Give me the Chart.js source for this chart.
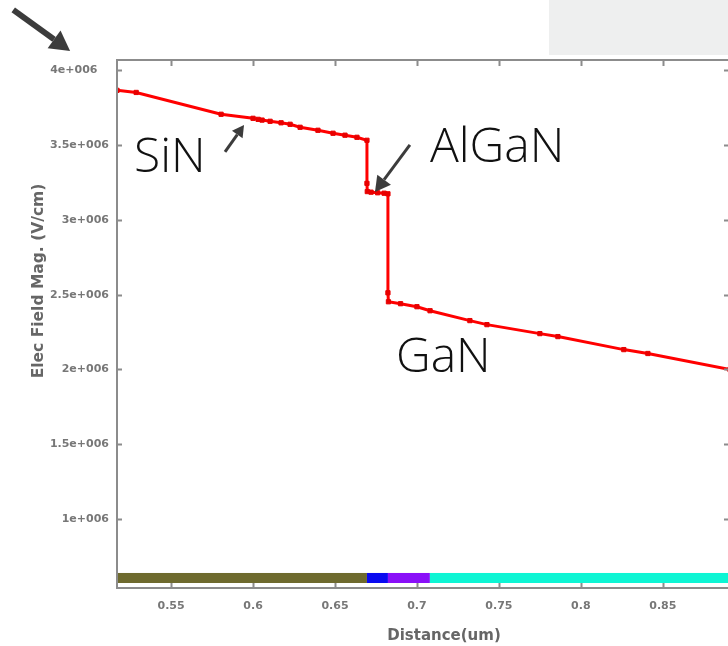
<!DOCTYPE html>
<html>
<head>
<meta charset="utf-8">
<script src="https://cdn.jsdelivr.net/npm/chart.js@4.4.1/dist/chart.umd.min.js"></script>
<style>
  html, body { margin: 0; padding: 0; background: #fff; overflow: hidden; }
  #wrap { position: absolute; left: 0; top: 0; width: 740px; height: 646px; }
  #corner { position: absolute; left: 549px; top: 0; width: 179px; height: 55px; background: #eeefef; }
</style>
</head>
<body>
<div id="wrap"><canvas id="fieldChart" width="740" height="646"></canvas></div>
<div id="corner"></div>
<script>
(function () {
  'use strict';

  // field magnitude profile across the stack (distance in um, field in V/cm)
  var distance = [0.517, 0.5287, 0.5805, 0.6000, 0.6031, 0.6055, 0.6104, 0.6171, 0.6226, 0.6287,
    0.6396, 0.6488, 0.6561, 0.6634, 0.6695, 0.6695, 0.6697, 0.6720, 0.6760, 0.6800,
    0.6823, 0.6823, 0.6826, 0.6900, 0.7000, 0.7080, 0.7323, 0.7427, 0.7750, 0.7860,
    0.8262, 0.8409, 0.8910];
  var fieldMag = [3.867e6, 3.853e6, 3.707e6, 3.680e6, 3.673e6, 3.668e6, 3.660e6, 3.650e6, 3.640e6, 3.620e6,
    3.600e6, 3.580e6, 3.567e6, 3.553e6, 3.533e6, 3.245e6, 3.190e6, 3.186e6, 3.182e6, 3.179e6,
    3.175e6, 2.513e6, 2.453e6, 2.440e6, 2.420e6, 2.393e6, 2.327e6, 2.300e6, 2.240e6, 2.220e6,
    2.133e6, 2.107e6, 2.000e6];

  var xTicks = [0.55, 0.6, 0.65, 0.7, 0.75, 0.8, 0.85];
  var xTickLabels = ['0.55', '0.6', '0.65', '0.7', '0.75', '0.8', '0.85'];
  var yTicks = [1e6, 1.5e6, 2e6, 2.5e6, 3e6, 3.5e6, 4e6];
  // the top label sits a little further left than the rest
  var yTickLabels = ['1e+006', '1.5e+006', '2e+006', '2.5e+006', '3e+006', '3.5e+006', '4e+006   '];

  // material regions along the bottom strip
  var regionEdges = [0.517, 0.6695, 0.6823, 0.7079, 0.891];
  var regionColors = ['#6e6a2e', '#0a0af0', '#8a10f8', '#0ef5d4'];

  // layer labels and pointer arrows, in data units
  var labelText = ['SiN', 'AlGaN', 'GaN'];
  var labelX = [0.5274, 0.7079, 0.6872];
  var labelY = [3.321e6, 3.388e6, 1.983e6];
  var arrowFrom = [[0.4537, 4.405e6], [0.5829, 3.455e6], [0.6957, 3.502e6]];
  var arrowTo = [[0.4884, 4.130e6], [0.5945, 3.635e6], [0.6744, 3.187e6]];
  var arrowWidth = [6, 3, 3];
  var arrowHead = [22, 13, 17];

  var axisColor = '#8c8c8c';
  var tickFont = { family: 'DejaVu Sans', size: 11, weight: 'bold' };

  function drawArrow(ctx, x1, y1, x2, y2, w, head) {
    var ang = Math.atan2(y2 - y1, x2 - x1);
    var bx = x2 - Math.cos(ang) * head * 0.9;
    var by = y2 - Math.sin(ang) * head * 0.9;
    ctx.strokeStyle = '#3c3c3c';
    ctx.fillStyle = '#3c3c3c';
    ctx.lineWidth = w;
    ctx.beginPath();
    ctx.moveTo(x1, y1);
    ctx.lineTo(bx, by);
    ctx.stroke();
    var half = head * 0.5;
    ctx.beginPath();
    ctx.moveTo(x2, y2);
    ctx.lineTo(bx + Math.cos(ang + Math.PI / 2) * half, by + Math.sin(ang + Math.PI / 2) * half);
    ctx.lineTo(bx + Math.cos(ang - Math.PI / 2) * half, by + Math.sin(ang - Math.PI / 2) * half);
    ctx.closePath();
    ctx.fill();
  }

  var framePlugin = {
    id: 'frame',
    beforeDatasetsDraw: function (chart) {
      var ctx = chart.ctx, xs = chart.scales.x, ys = chart.scales.y;
      var top = ys.getPixelForValue(0.639e6), bottom = ys.getPixelForValue(0.572e6);
      ctx.save();
      for (var i = 0; i < regionColors.length; i++) {
        var l = xs.getPixelForValue(regionEdges[i]);
        var r = xs.getPixelForValue(regionEdges[i + 1]);
        ctx.fillStyle = regionColors[i];
        ctx.fillRect(l, top, r - l, bottom - top);
      }
      ctx.restore();
    },
    afterDraw: function (chart) {
      var ctx = chart.ctx, a = chart.chartArea, xs = chart.scales.x, ys = chart.scales.y;
      ctx.save();
      // box and inward ticks on all four sides
      ctx.strokeStyle = axisColor;
      ctx.lineWidth = 2;
      ctx.strokeRect(a.left, a.top, a.right - a.left, a.bottom - a.top);
      ctx.beginPath();
      xTicks.forEach(function (v) {
        var px = Math.round(xs.getPixelForValue(v)) + 0.5;
        ctx.moveTo(px, a.bottom); ctx.lineTo(px, a.bottom - 5);
        ctx.moveTo(px, a.top); ctx.lineTo(px, a.top + 6);
      });
      yTicks.forEach(function (v) {
        var py = Math.round(ys.getPixelForValue(v)) + 0.5;
        ctx.moveTo(a.left, py); ctx.lineTo(a.left + 5, py);
        ctx.moveTo(a.right, py); ctx.lineTo(a.right - 6, py);
      });
      ctx.stroke();

      // axis titles
      ctx.fillStyle = '#666';
      ctx.font = 'bold 15px "DejaVu Sans"';
      ctx.textAlign = 'center';
      ctx.textBaseline = 'middle';
      ctx.fillText('Distance(um)', 444, 636);
      ctx.save();
      ctx.translate(39, 281);
      ctx.rotate(-Math.PI / 2);
      ctx.font = 'bold 15.5px "DejaVu Sans"';
      ctx.fillText('Elec Field Mag. (V/cm)', 0, 0);
      ctx.restore();

      // layer labels
      ctx.fillStyle = '#111';
      ctx.font = '300 48px "Open Sans"';
      ctx.textAlign = 'left';
      ctx.textBaseline = 'alphabetic';
      for (var i = 0; i < labelText.length; i++) {
        ctx.fillText(labelText[i], xs.getPixelForValue(labelX[i]), ys.getPixelForValue(labelY[i]));
      }
      for (var j = 0; j < arrowFrom.length; j++) {
        drawArrow(ctx,
          xs.getPixelForValue(arrowFrom[j][0]), ys.getPixelForValue(arrowFrom[j][1]),
          xs.getPixelForValue(arrowTo[j][0]), ys.getPixelForValue(arrowTo[j][1]),
          arrowWidth[j], arrowHead[j]);
      }
      ctx.restore();
    }
  };

  var points = distance.map(function (d, i) { return { x: d, y: fieldMag[i] }; });

  new Chart(document.getElementById('fieldChart'), {
    type: 'line',
    data: {
      datasets: [{
        data: points,
        borderColor: '#ff0000',
        backgroundColor: '#ff0000',
        borderWidth: 3,
        pointStyle: 'rect',
        pointRadius: 3,
        pointBackgroundColor: '#e80000',
        pointBorderColor: '#e80000',
        pointBorderWidth: 1,
        tension: 0
      }]
    },
    options: {
      responsive: false,
      animation: false,
      layout: { padding: { left: 0, top: 60, right: 10, bottom: 0 } },
      plugins: { legend: { display: false }, tooltip: { enabled: false } },
      scales: {
        x: {
          type: 'linear',
          min: 0.517,
          max: 0.891,
          grid: { display: false },
          border: { display: false },
          afterBuildTicks: function (s) { s.ticks = xTicks.map(function (v) { return { value: v }; }); },
          afterFit: function (s) { s.height = 58; },
          ticks: {
            color: '#777',
            font: tickFont,
            padding: 4,
            maxRotation: 0,
            autoSkip: false,
            callback: function (v) { return xTickLabels[xTicks.indexOf(v)]; }
          }
        },
        y: {
          min: 0.5385e6,
          max: 4.07e6,
          grid: { display: false },
          border: { display: false },
          afterBuildTicks: function (s) { s.ticks = yTicks.map(function (v) { return { value: v }; }); },
          afterFit: function (s) { s.width = 117; },
          ticks: {
            color: '#777',
            font: tickFont,
            padding: 0,
            autoSkip: false,
            callback: function (v) { return yTickLabels[yTicks.indexOf(v)]; }
          }
        }
      }
    },
    plugins: [framePlugin]
  });
})();
</script>
</body>
</html>
